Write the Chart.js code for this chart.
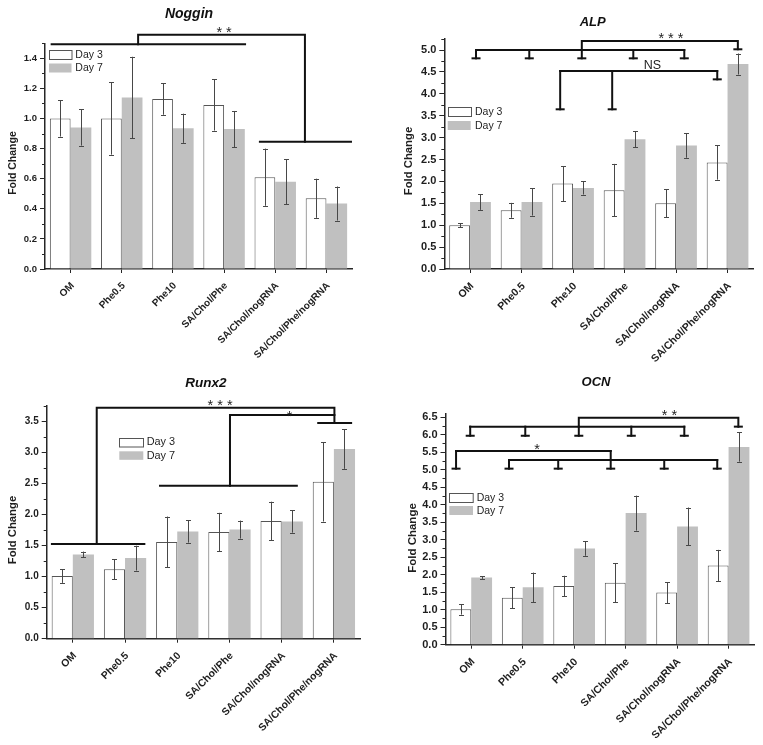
<!DOCTYPE html>
<html><head><meta charset="utf-8">
<script src="https://cdn.jsdelivr.net/npm/chart.js@4/dist/chart.umd.min.js"></script>
<style>
html,body{margin:0;padding:0;background:#fff;}
#wrap{position:relative;width:763px;height:745px;overflow:hidden;background:#fff;}
canvas{position:absolute;}
</style></head><body>
<div id="wrap">
<canvas id="c0" width="381" height="372" style="left:0px;top:0px;width:381px;height:372px"></canvas>
<canvas id="c1" width="383" height="372" style="left:380px;top:0px;width:383px;height:372px"></canvas>
<canvas id="c2" width="380" height="373" style="left:0px;top:372px;width:380px;height:373px"></canvas>
<canvas id="c3" width="383" height="373" style="left:380px;top:372px;width:383px;height:373px"></canvas>
</div>
<script>
// ---------------- DATA ----------------
const categories = ['OM','Phe0.5','Phe10','SA/Chol/Phe','SA/Chol/nogRNA','SA/Chol/Phe/nogRNA'];
const seriesNames = ['Day 3','Day 7'];

const nogginDay3    = [1.00, 1.00, 1.13, 1.09, 0.61, 0.47];
const nogginDay3Err = [0.12, 0.24, 0.105, 0.17, 0.19, 0.13];
const nogginDay7    = [0.94, 1.14, 0.935, 0.93, 0.58, 0.435];
const nogginDay7Err = [0.12, 0.27, 0.097, 0.12, 0.15, 0.113];
const nogginTicks   = [0.0, 0.2, 0.4, 0.6, 0.8, 1.0, 1.2, 1.4];
const nogginMinor   = [0.1, 0.3, 0.5, 0.7, 0.9, 1.1, 1.3, 1.5];

const alpDay3    = [1.00, 1.34, 1.95, 1.80, 1.50, 2.43];
const alpDay3Err = [0.05, 0.17, 0.40, 0.60, 0.32, 0.39];
const alpDay7    = [1.53, 1.53, 1.85, 2.96, 2.82, 4.68];
const alpDay7Err = [0.18, 0.31, 0.15, 0.18, 0.28, 0.24];
const alpTicks   = [0.0, 0.5, 1.0, 1.5, 2.0, 2.5, 3.0, 3.5, 4.0, 4.5, 5.0];
const alpMinor   = [0.25, 0.75, 1.25, 1.75, 2.25, 2.75, 3.25, 3.75, 4.25, 4.75, 5.25];

const runx2Day3    = [1.01, 1.12, 1.56, 1.72, 1.90, 2.53];
const runx2Day3Err = [0.11, 0.16, 0.41, 0.31, 0.31, 0.64];
const runx2Day7    = [1.36, 1.30, 1.73, 1.76, 1.89, 3.06];
const runx2Day7Err = [0.045, 0.20, 0.18, 0.145, 0.18, 0.32];
const runx2Ticks   = [0.0, 0.5, 1.0, 1.5, 2.0, 2.5, 3.0, 3.5];
const runx2Minor   = [0.25, 0.75, 1.25, 1.75, 2.25, 2.75, 3.25, 3.75];

const ocnDay3    = [1.01, 1.34, 1.68, 1.77, 1.49, 2.26];
const ocnDay3Err = [0.15, 0.30, 0.29, 0.56, 0.30, 0.45];
const ocnDay7    = [1.92, 1.64, 2.75, 3.76, 3.38, 5.65];
const ocnDay7Err = [0.04, 0.42, 0.21, 0.50, 0.54, 0.42];
const ocnTicks   = [0.0, 0.5, 1.0, 1.5, 2.0, 2.5, 3.0, 3.5, 4.0, 4.5, 5.0, 5.5, 6.0, 6.5];
const ocnMinor   = [0.25, 0.75, 1.25, 1.75, 2.25, 2.75, 3.25, 3.75, 4.25, 4.75, 5.25, 5.75, 6.25];

// significance brackets (x in category-index units, y in data units)
const nogginBrackets = [
  [[-0.37,1.493],[3.41,1.493]],
  [[1.32,1.493],[1.32,1.557],[4.58,1.557],[4.58,0.846]],
  [[3.70,0.846],[5.48,0.846]]
];
const nogginCaps = [];
const nogginMarks = [{text:'* *', x:3.0, y:1.585}];

const alpBrackets = [
  [[0.116,5.0],[4.16,5.0]],
  [[0.116,5.0],[0.116,4.81]], [[1.15,5.0],[1.15,4.81]], [[2.17,5.0],[2.17,4.81]],
  [[3.17,5.0],[3.17,4.81]], [[4.16,5.0],[4.16,4.81]],
  [[2.17,5.0],[2.17,5.205],[5.20,5.205],[5.20,5.016]],
  [[1.75,4.52],[4.80,4.52]],
  [[1.75,4.52],[1.75,3.646]], [[2.76,4.52],[2.76,3.646]], [[4.80,4.52],[4.80,4.33]]
];
const alpCaps = [[0.116,4.81],[1.15,4.81],[2.17,4.81],[3.17,4.81],[4.16,4.81],[5.20,5.016],[1.75,3.646],[2.76,3.646],[4.80,4.33]];
const alpMarks = [{text:'* * *', x:3.90, y:5.31}, {text:'NS', x:3.54, y:4.66, ns:true}];

const runx2Brackets = [
  [[-0.40,1.527],[1.37,1.527]],
  [[0.458,1.527],[0.458,3.726],[5.01,3.726],[5.01,3.479]],
  [[4.70,3.479],[5.33,3.479]],
  [[1.67,2.468],[4.29,2.468]],
  [[3.01,2.468],[3.01,3.608],[5.01,3.608]]
];
const runx2Caps = [];
const runx2Marks = [{text:'* * *', x:2.82, y:3.80}, {text:'*', x:4.15, y:3.63}];

const ocnBrackets = [
  [[-0.02,6.23],[4.14,6.23]],
  [[-0.02,6.23],[-0.02,5.97]], [[1.05,6.23],[1.05,5.97]], [[2.09,6.23],[2.09,5.97]],
  [[3.11,6.23],[3.11,5.97]], [[4.14,6.23],[4.14,5.97]],
  [[2.09,6.23],[2.09,6.486],[5.19,6.486],[5.19,6.23]],
  [[-0.295,5.534],[2.71,5.534]],
  [[-0.295,5.534],[-0.295,5.03]], [[2.71,5.534],[2.71,5.03]],
  [[0.734,5.277],[4.78,5.277]],
  [[0.734,5.277],[0.734,5.03]], [[1.69,5.277],[1.69,5.03]], [[3.75,5.277],[3.75,5.03]], [[4.78,5.277],[4.78,5.03]]
];
const ocnCaps = [[-0.02,5.97],[1.05,5.97],[2.09,5.97],[3.11,5.97],[4.14,5.97],[5.19,6.23],
  [-0.295,5.03],[0.734,5.03],[1.69,5.03],[2.71,5.03],[3.75,5.03],[4.78,5.03]];
const ocnMarks = [{text:'* *', x:3.85, y:6.61}, {text:'*', x:1.28, y:5.65}];

// ---------------- STYLE / LAYOUT ----------------
const FF = '"Liberation Sans", Arial, Helvetica, sans-serif';
const AX = '#262626', TXT = '#1e1e1e', GRAY = '#c0c0c0', BORDER = '#555555', ERR = '#484848', BR = '#111';

function textCentered(ctx, text, cx, cy, font, color, rot) {
  ctx.save();
  ctx.font = font; ctx.fillStyle = color;
  ctx.translate(cx, cy);
  if (rot) ctx.rotate(rot);
  ctx.textAlign = 'center'; ctx.textBaseline = 'alphabetic';
  const m = ctx.measureText(text);
  ctx.fillText(text, 0, (m.actualBoundingBoxAscent - m.actualBoundingBoxDescent) / 2);
  ctx.restore();
}

function annotPlugin(cfg) {
  const ox = cfg.origin[0], oy = cfg.origin[1];
  return {
    id: 'annot_' + cfg.id,
    afterDatasetsDraw(chart) {
      const ctx = chart.ctx, y = chart.scales.y;
      chart.data.datasets.forEach((ds, di) => {
        const meta = chart.getDatasetMeta(di);
        meta.data.forEach((bar, i) => {
          const v = ds.data[i], e = ds.errors[i];
          const x = Math.round(bar.x) + 0.5;
          const yt = y.getPixelForValue(v + e), yb = y.getPixelForValue(v - e);
          ctx.save();
          ctx.strokeStyle = ERR; ctx.lineWidth = 1;
          ctx.beginPath();
          ctx.moveTo(x, yt); ctx.lineTo(x, yb);
          ctx.moveTo(x - 2.5, Math.round(yt) + 0.5); ctx.lineTo(x + 2.5, Math.round(yt) + 0.5);
          ctx.moveTo(x - 2.5, Math.round(yb) + 0.5); ctx.lineTo(x + 2.5, Math.round(yb) + 0.5);
          ctx.stroke();
          ctx.restore();
        });
      });
    },
    afterDraw(chart) {
      const ctx = chart.ctx, xs = chart.scales.x, ys = chart.scales.y, ca = chart.chartArea;
      // minor ticks
      ctx.save();
      ctx.strokeStyle = AX; ctx.lineWidth = 1;
      ctx.beginPath();
      cfg.minor.forEach(v => {
        const py = Math.round(ys.getPixelForValue(v)) + 0.5;
        ctx.moveTo(ca.left - 3, py); ctx.lineTo(ca.left, py);
      });
      ctx.stroke();
      ctx.restore();
      // brackets
      const P = (pt) => [xs.getPixelForValue(pt[0]), ys.getPixelForValue(pt[1])];
      ctx.save();
      ctx.strokeStyle = BR; ctx.lineWidth = 2; ctx.lineCap = 'square';
      cfg.brackets.forEach(line => {
        ctx.beginPath();
        line.forEach((pt, k) => { const p = P(pt); if (k === 0) ctx.moveTo(p[0], p[1]); else ctx.lineTo(p[0], p[1]); });
        ctx.stroke();
      });
      ctx.lineCap = 'butt';
      cfg.caps.forEach(pt => {
        const p = P(pt);
        ctx.beginPath(); ctx.moveTo(p[0] - 4.5, p[1]); ctx.lineTo(p[0] + 4.5, p[1]); ctx.stroke();
      });
      ctx.restore();
      cfg.marks.forEach(m => {
        const p = P([m.x, m.y]);
        const font = m.ns ? ('normal ' + cfg.nsFont + 'px ' + FF) : ('normal ' + cfg.starFont + 'px ' + FF);
        textCentered(ctx, m.text, p[0], p[1], font, TXT, 0);
      });
      // title
      textCentered(ctx, cfg.title, cfg.titlePos[0] - ox, cfg.titlePos[1] - oy,
        'italic bold ' + cfg.titleFont + 'px ' + FF, '#111', 0);
      // y title
      textCentered(ctx, 'Fold Change', cfg.yTitlePos[0] - ox, cfg.yTitlePos[1] - oy,
        'bold ' + cfg.yTitleFont + 'px ' + FF, TXT, -Math.PI / 2);
      // legend
      const L = cfg.legend;
      const bx = L.x - ox, bw = L.w, bh = L.h;
      const y3 = L.y3 - oy, y7 = L.y7 - oy;
      ctx.save();
      ctx.fillStyle = '#fff'; ctx.fillRect(bx, y3, bw, bh);
      ctx.strokeStyle = BORDER; ctx.lineWidth = 1; ctx.strokeRect(Math.round(bx) + 0.5, Math.round(y3) + 0.5, bw, bh);
      ctx.fillStyle = GRAY; ctx.fillRect(bx, y7, bw, bh);
      ctx.font = 'normal ' + L.font + 'px ' + FF; ctx.fillStyle = TXT;
      ctx.textAlign = 'left'; ctx.textBaseline = 'middle';
      ctx.fillText(seriesNames[0], L.tx - ox, y3 + bh / 2 + 0.5);
      ctx.fillText(seriesNames[1], L.tx - ox, y7 + bh / 2 + 0.5);
      ctx.restore();
    }
  };
}

function makeChart(cfg) {
  const el = document.getElementById(cfg.id);
  return new Chart(el, {
    type: 'bar',
    data: {
      labels: categories,
      datasets: [
        { label: seriesNames[0], data: cfg.d3, errors: cfg.e3, backgroundColor: '#ffffff', borderColor: BORDER, borderWidth: 1, borderSkipped: 'bottom' },
        { label: seriesNames[1], data: cfg.d7, errors: cfg.e7, backgroundColor: GRAY, borderWidth: 0 }
      ]
    },
    options: {
      responsive: false, animation: false, devicePixelRatio: 1,
      layout: { padding: { left: 0, top: cfg.top, right: cfg.right, bottom: 0 } },
      datasets: { bar: { categoryPercentage: 0.81, barPercentage: 1.0 } },
      plugins: { legend: { display: false }, title: { display: false }, tooltip: { enabled: false } },
      scales: {
        x: {
          grid: { display: true, drawOnChartArea: false, offset: false, tickLength: 4, color: AX, lineWidth: 1 },
          border: { display: true, color: AX, width: 1.5 },
          ticks: { font: { family: FF, weight: 'bold', size: cfg.xFont }, color: TXT, maxRotation: 45, minRotation: 45, autoSkip: false, padding: 7, labelOffset: 2 },
          afterFit: s => { s.height = cfg.xh; }
        },
        y: {
          min: 0, max: cfg.max,
          grid: { display: true, drawOnChartArea: false, tickLength: 5, color: AX, lineWidth: 1 },
          border: { display: true, color: AX, width: 1.5 },
          ticks: { font: { family: FF, weight: 'bold', size: cfg.yFont }, color: TXT, padding: 3, callback: v => Number(v).toFixed(1) },
          afterBuildTicks: s => { s.ticks = cfg.ticks.map(v => ({ value: v })); },
          afterFit: s => { s.width = cfg.left; }
        }
      }
    },
    plugins: [annotPlugin(cfg)]
  });
}

makeChart({ id: 'c0', origin: [0, 0], d3: nogginDay3, e3: nogginDay3Err, d7: nogginDay7, e7: nogginDay7Err,
  ticks: nogginTicks, minor: nogginMinor, max: 1.5, left: 45, right: 29, top: 43.25, xh: 103,
  xFont: 10, yFont: 9.5, brackets: nogginBrackets, caps: nogginCaps, marks: nogginMarks, starFont: 14.5, nsFont: 12.5,
  title: 'Noggin', titlePos: [189, 14], titleFont: 14, yTitlePos: [13, 163], yTitleFont: 10.5,
  legend: { x: 49, y3: 50, y7: 63.5, w: 22.5, h: 9, tx: 75.3, font: 10.5 } });

makeChart({ id: 'c1', origin: [380, 0], d3: alpDay3, e3: alpDay3Err, d7: alpDay7, e7: alpDay7Err,
  ticks: alpTicks, minor: alpMinor, max: 5.25, left: 64.3, right: 9.7, top: 39.05, xh: 103,
  xFont: 10.5, yFont: 11, brackets: alpBrackets, caps: alpCaps, marks: alpMarks, starFont: 14.5, nsFont: 12.5,
  title: 'ALP', titlePos: [592.7, 21], titleFont: 13, yTitlePos: [409.3, 161], yTitleFont: 11.3,
  legend: { x: 447.7, y3: 107.3, y7: 121, w: 23, h: 9, tx: 475, font: 10.5 } });

makeChart({ id: 'c2', origin: [0, 372], d3: runx2Day3, e3: runx2Day3Err, d7: runx2Day7, e7: runx2Day7Err,
  ticks: runx2Ticks, minor: runx2Minor, max: 3.75, left: 46.7, right: 20, top: 34.2, xh: 106.3,
  xFont: 10.4, yFont: 10, brackets: runx2Brackets, caps: runx2Caps, marks: runx2Marks, starFont: 14.5, nsFont: 12.5,
  title: 'Runx2', titlePos: [206, 382.7], titleFont: 13.5, yTitlePos: [13.3, 530], yTitleFont: 11.3,
  legend: { x: 119.3, y3: 437.7, y7: 451.3, w: 24, h: 8.5, tx: 146.7, font: 10.9 } });

makeChart({ id: 'c3', origin: [380, 372], d3: ocnDay3, e3: ocnDay3Err, d7: ocnDay7, e7: ocnDay7Err,
  ticks: ocnTicks, minor: ocnMinor, max: 6.6, left: 65.5, right: 8.7, top: 41.7, xh: 100.3,
  xFont: 10.6, yFont: 11, brackets: ocnBrackets, caps: ocnCaps, marks: ocnMarks, starFont: 14.5, nsFont: 12.5,
  title: 'OCN', titlePos: [596, 381.7], titleFont: 13, yTitlePos: [413.3, 538], yTitleFont: 11.5,
  legend: { x: 449.3, y3: 492.7, y7: 506, w: 23.7, h: 9, tx: 476.7, font: 10.5 } });
</script>
</body></html>
